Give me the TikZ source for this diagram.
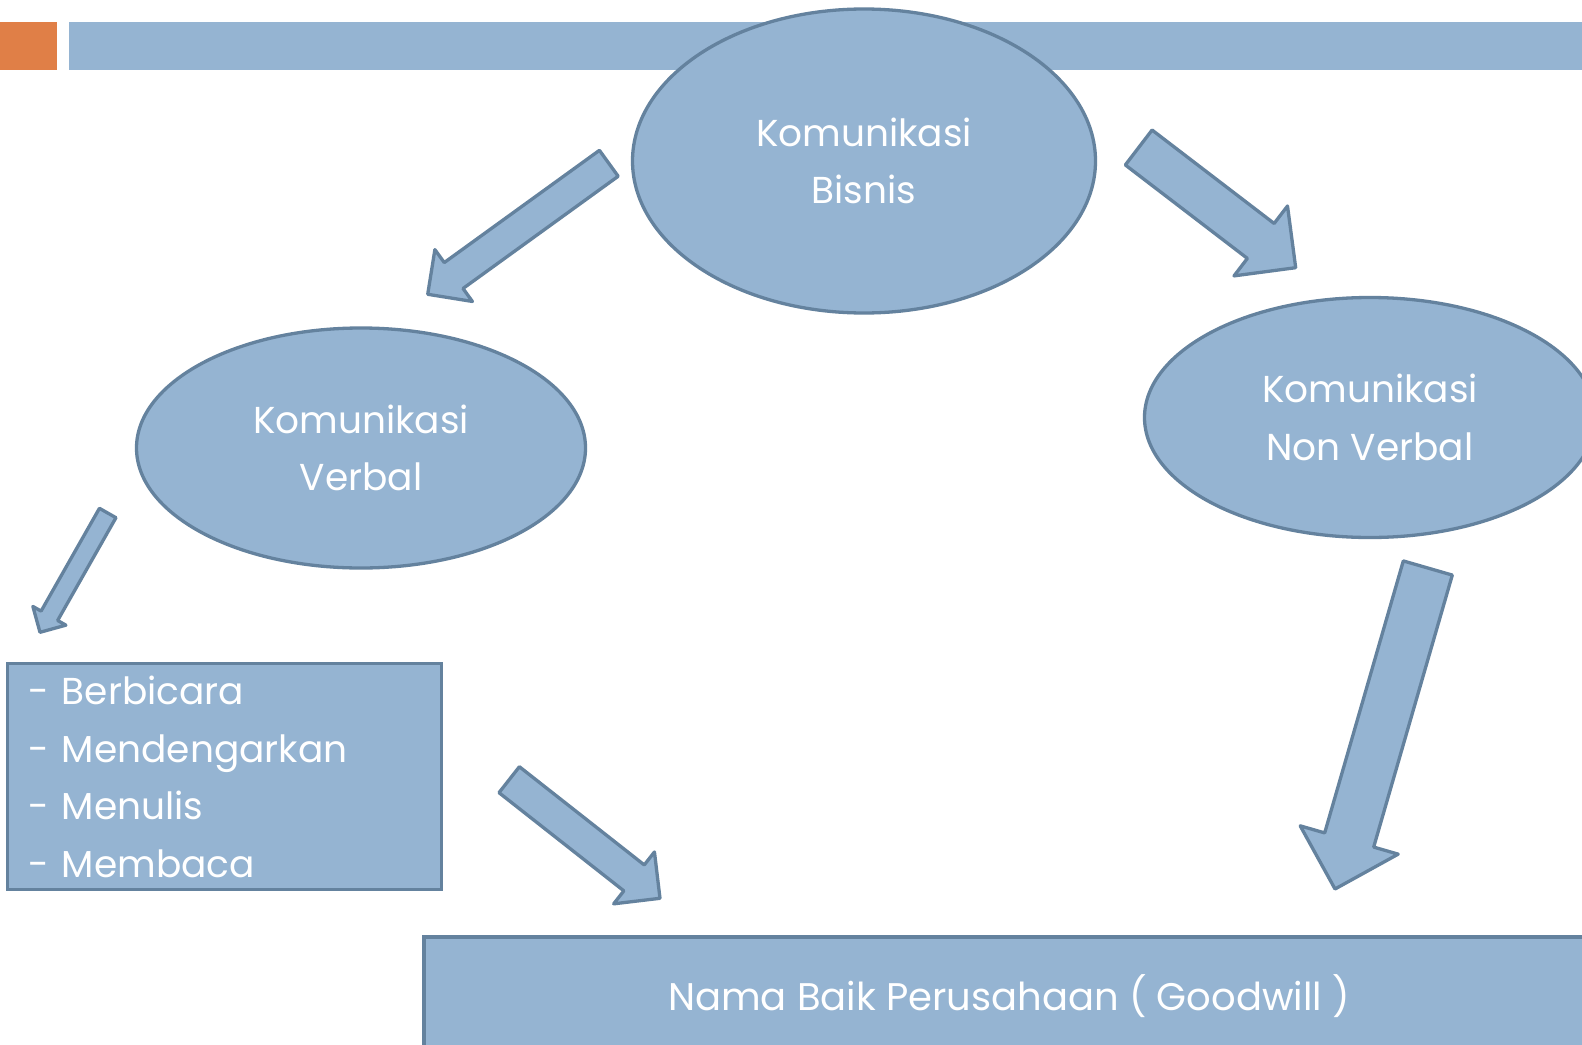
\documentclass[tikz,border=0pt]{standalone}
\usepackage{fontspec}
\setmainfont{Poppins}
\usetikzlibrary{shapes.geometric,calc}
\definecolor{fillblue}{HTML}{95B4D2}
\definecolor{edgeblue}{HTML}{64829E}
\definecolor{accentorange}{HTML}{E07F47}
% block arrow from coordinate #1 (tail middle) to coordinate #2 (tip), shaft width #3
\newcommand{\blockarrow}[3]{%
  \path let \p1=(#1), \p2=(#2) in \pgfextra{%
    \pgfmathparse{atan2(\y2-\y1,\x2-\x1)}\xdef\baAng{\pgfmathresult}%
    \pgfmathparse{veclen(\x2-\x1,\y2-\y1)}\xdef\baLen{\pgfmathresult}%
    \pgfmathparse{\baLen-#3}\xdef\baNeck{\pgfmathresult}%
    \pgfmathparse{#3/2}\xdef\baHalf{\pgfmathresult}};
  \draw[barrow, shift={(#1)}, rotate=\baAng]
    (0pt,\baHalf pt) -- (\baNeck pt,\baHalf pt) -- (\baNeck pt,#3pt) -- (\baLen pt,0pt)
    -- (\baNeck pt,-#3pt) -- (\baNeck pt,-\baHalf pt) -- (0pt,-\baHalf pt) -- cycle;
}
\begin{document}
\begin{tikzpicture}[x=1pt,y=-1pt,
  shapebox/.style={fill=fillblue, draw=edgeblue, line width=3.3pt},
  labeltext/.style={text=white, font=\fontsize{37.5}{57.5}\selectfont},
  ovalnode/.style={shapebox, labeltext, ellipse, inner sep=0pt, align=center},
  barrow/.style={shapebox, line join=round},
  bandbox/.style={rectangle, inner sep=0pt, draw=none}]
\useasboundingbox (0,0) rectangle (1582,1044);
\clip (0,0) rectangle (1582,1044);
\fill[white] (0,0) rectangle (1582,1044);

% header band
\node[bandbox, fill=accentorange, minimum width=57pt, minimum height=48pt] (orangebox) at (28.5,46) {};
\node[bandbox, fill=fillblue, minimum width=1513pt, minimum height=48pt] (topbar) at (825.5,46) {};

% ovals
\node[ovalnode, minimum width=463pt, minimum height=304pt] (bisnis) at (864,161) {Komunikasi\\Bisnis};
\node[ovalnode, minimum width=449pt, minimum height=240pt] (verbal) at (361,448) {Komunikasi\\Verbal};
\node[ovalnode, minimum width=451pt, minimum height=240pt] (nonverbal) at (1370,417.5) {Komunikasi\\Non Verbal};

% list box
\node[shapebox, labeltext, rectangle, minimum width=434pt, minimum height=226pt,
      text width=392pt, inner xsep=21pt, inner ysep=0pt, align=left] (list) at (224.8,776.7)
  {- Berbicara\\- Mendengarkan\\- Menulis\\- Membaca};

% goodwill box
\node[shapebox, labeltext, rectangle, minimum width=1170pt, minimum height=124pt,
      text height=28pt, text depth=6pt, inner sep=0pt,
      font=\fontsize{38.5}{57.5}\selectfont] (goodwill) at (1009,999)
  {Nama Baik Perusahaan ( Goodwill )};

% arrow end points
\coordinate (a1s) at (608.8,163.3);  \coordinate (a1e) at (427.7,294.3);
\coordinate (a2s) at (1138.7,147.5); \coordinate (a2e) at (1295.7,267.7);
\coordinate (a3s) at (107.7,513);    \coordinate (a3e) at (40,632.3);
\coordinate (a4s) at (509.2,779.7);  \coordinate (a4e) at (660,898.3);
\coordinate (a5s) at (1427.8,568);   \coordinate (a5e) at (1335,889);

\blockarrow{a1s}{a1e}{32}
\blockarrow{a2s}{a2e}{44}
\blockarrow{a3s}{a3e}{19}
\blockarrow{a4s}{a4e}{33}
\blockarrow{a5s}{a5e}{51}
\end{tikzpicture}
\end{document}
